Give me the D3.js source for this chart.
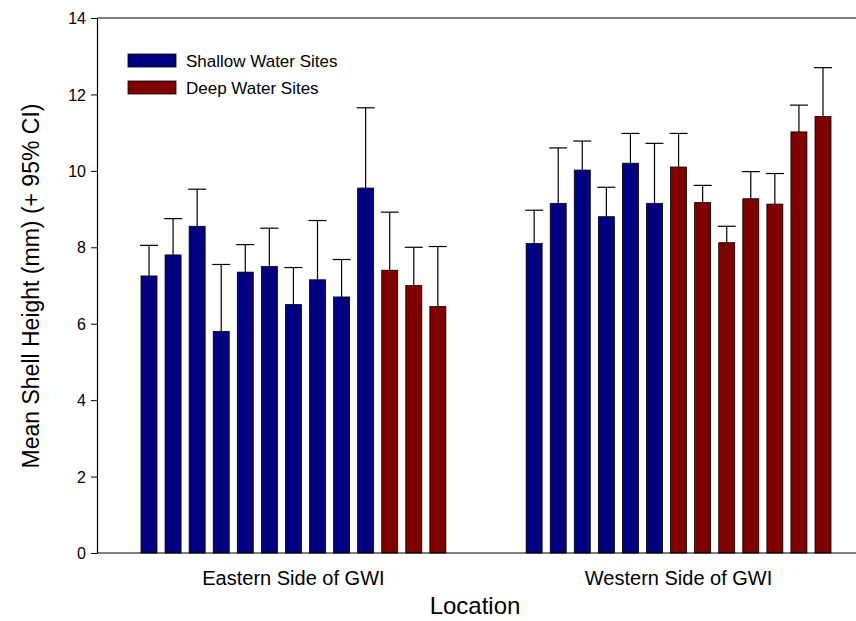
<!DOCTYPE html>
<html><head><meta charset="utf-8">
<script src="https://cdn.jsdelivr.net/npm/d3@7"></script>
<style>body{margin:0;background:#fff}text{font-family:"Liberation Sans",Arial,sans-serif}</style>
</head><body><svg id="chart"></svg>
<script>
const groups = ["Eastern Side of GWI", "Western Side of GWI"];
const eastMeans = [7.25, 7.8, 8.55, 5.8, 7.35, 7.5, 6.5, 7.15, 6.7, 9.55, 7.4, 7.0, 6.45];
const eastUpper = [8.05, 8.75, 9.52, 7.55, 8.07, 8.5, 7.47, 8.7, 7.68, 11.65, 8.92, 8.0, 8.02];
const eastType = ["s","s","s","s","s","s","s","s","s","s","d","d","d"];
const westMeans = [8.1, 9.15, 10.02, 8.8, 10.2, 9.15, 10.1, 9.17, 8.12, 9.27, 9.13, 11.02, 11.42];
const westUpper = [8.97, 10.6, 10.78, 9.57, 10.98, 10.72, 10.98, 9.62, 8.55, 9.98, 9.93, 11.72, 12.7];
const westType = ["s","s","s","s","s","s","d","d","d","d","d","d","d"];
const yTicks = [0, 2, 4, 6, 8, 10, 12, 14];
const legendLabels = ["Shallow Water Sites", "Deep Water Sites"];
const colors = {s: "#000080", d: "#800000"};

const width = 856, height = 621;
const marginLeft = 97, plotRight = 856, plotTop = 18, plotBottom = 553;

const bars = [];
eastMeans.forEach((v, i) => bars.push({slot: i, v, up: eastUpper[i], t: eastType[i]}));
westMeans.forEach((v, i) => bars.push({slot: 16 + i, v, up: westUpper[i], t: westType[i]}));

const x = d3.scaleLinear().domain([0, 28]).range([149, 823]);
const y = d3.scaleLinear().domain([0, 14]).range([plotBottom, plotTop]);
const bw = 16;

const svg = d3.select("#chart").attr("width", width).attr("height", height);

// error bars
const eb = svg.append("g").attr("stroke", "#000").attr("stroke-width", 1.2);
eb.selectAll("line.v").data(bars).join("line").attr("class", "v")
  .attr("x1", d => x(d.slot)).attr("x2", d => x(d.slot))
  .attr("y1", d => y(d.v)).attr("y2", d => y(d.up));
eb.selectAll("line.h").data(bars).join("line").attr("class", "h")
  .attr("x1", d => x(d.slot) - 9).attr("x2", d => x(d.slot) + 9)
  .attr("y1", d => y(d.up)).attr("y2", d => y(d.up));

svg.append("g").selectAll("rect").data(bars).join("rect")
  .attr("x", d => x(d.slot) - bw / 2).attr("width", bw)
  .attr("y", d => y(d.v)).attr("height", d => y(0) - y(d.v))
  .attr("fill", d => colors[d.t]).attr("stroke", "#000").attr("stroke-width", 0.8);

// axes
const yAxis = svg.append("g").attr("transform", `translate(${marginLeft},0)`)
  .call(d3.axisLeft(y).tickValues(yTicks).tickSize(6).tickPadding(5).tickSizeOuter(0));
yAxis.attr("font-size", 16);
yAxis.selectAll("text").attr("fill", "#000").attr("dy", "0.35em");
yAxis.select(".domain").attr("stroke-width", 1.2);
svg.append("line").attr("x1", marginLeft).attr("x2", plotRight).attr("y1", plotTop).attr("y2", plotTop).attr("stroke", "#000").attr("stroke-width", 1.2);
svg.append("line").attr("x1", marginLeft).attr("x2", plotRight).attr("y1", plotBottom).attr("y2", plotBottom).attr("stroke", "#000").attr("stroke-width", 1.2);

// group labels
svg.selectAll("text.grp").data(groups).join("text").attr("class", "grp")
  .attr("x", (d, i) => i === 0 ? (x(0) + x(12)) / 2 : (x(16) + x(28)) / 2)
  .attr("y", 585).attr("text-anchor", "middle").attr("font-size", 20).text(d => d);
svg.append("text").attr("x", 475).attr("y", 614).attr("text-anchor", "middle").attr("font-size", 24).text("Location");
svg.append("text").attr("transform", "translate(39,286) rotate(-90)").attr("text-anchor", "middle")
  .attr("font-size", 23).text("Mean Shell Height (mm) (+ 95% CI)");

// legend
const lg = svg.append("g").selectAll("g").data(legendLabels).join("g")
  .attr("transform", (d, i) => `translate(128,${54 + i * 27})`);
lg.append("rect").attr("width", 48).attr("height", 13)
  .attr("fill", (d, i) => i === 0 ? colors.s : colors.d).attr("stroke", "#000").attr("stroke-width", 0.8);
lg.append("text").attr("x", 58).attr("y", 13).attr("font-size", 17).text(d => d);
</script></body></html>
